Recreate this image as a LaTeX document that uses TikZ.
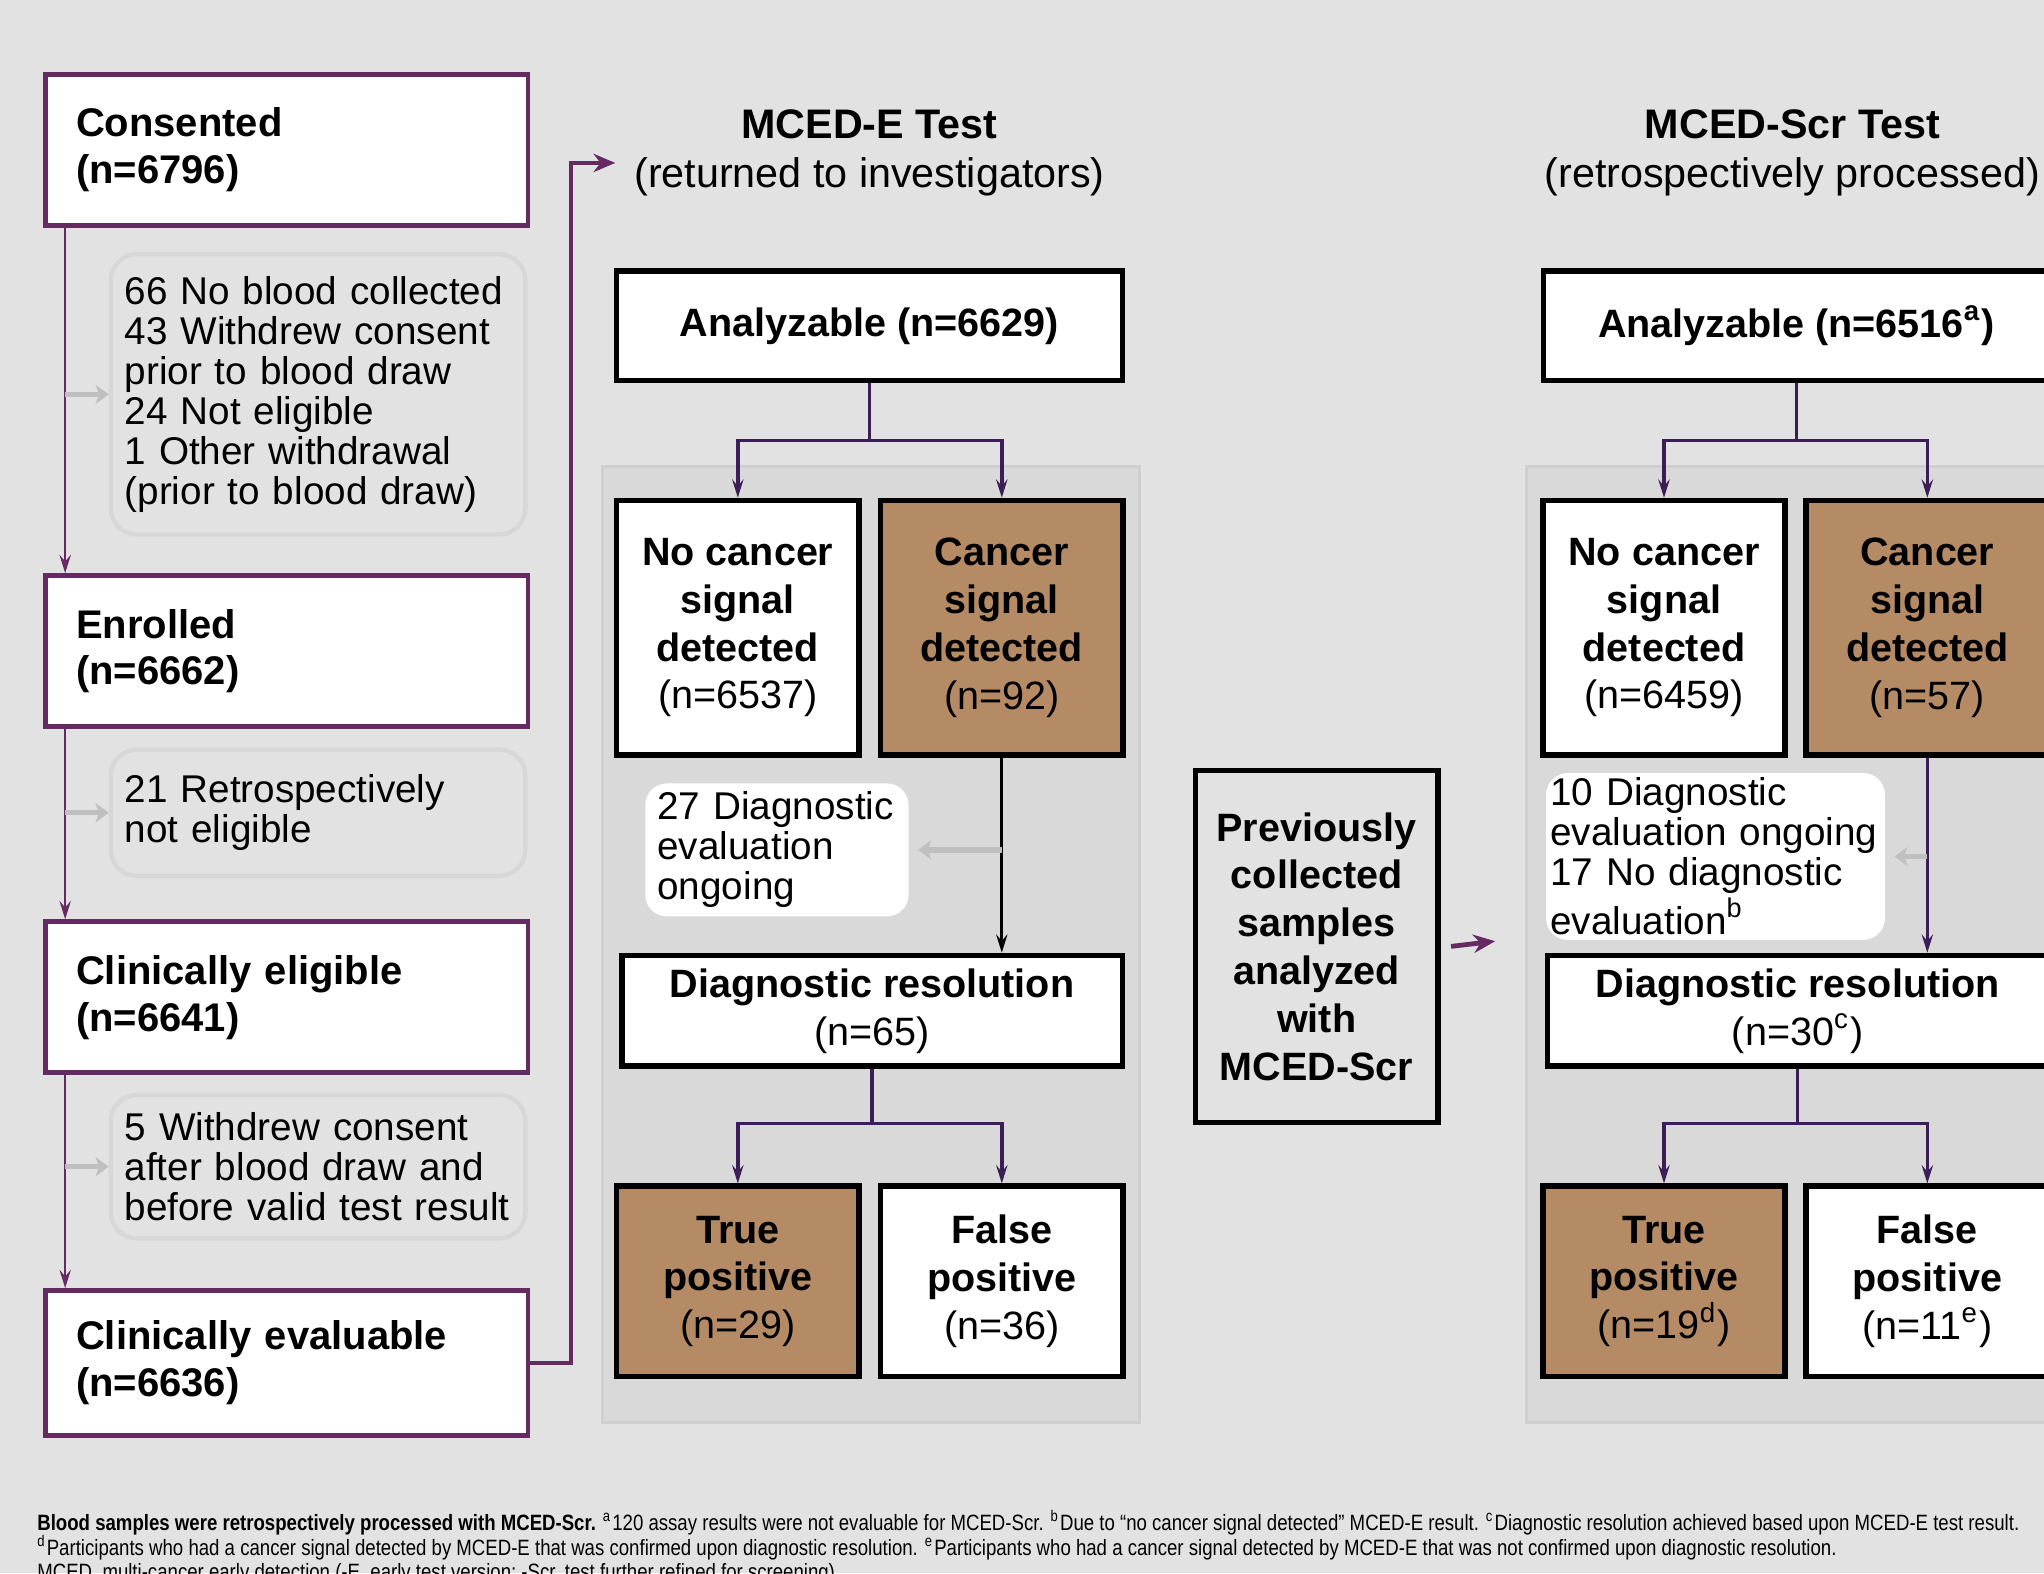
\documentclass[tikz,border=0pt]{standalone}
\usepackage{fontspec}
\setmainfont{Liberation Sans}
\newfontfamily\notefont{Liberation Sans}[FakeStretch=0.84]
\usetikzlibrary{arrows.meta}

\definecolor{bggray}{HTML}{E2E2E2}
\definecolor{panelgray}{HTML}{D9D9D9}
\definecolor{panelline}{HTML}{CFCFCF}
\definecolor{exclline}{HTML}{D7D7D7}
\definecolor{plum}{HTML}{652A62}
\definecolor{darkplum}{HTML}{3C1E57}
\definecolor{boxtan}{HTML}{B58B66}
\definecolor{tipgray}{HTML}{BFBFBF}

\tikzset{
	stk/.tip={Stealth[length=4.2pt,width=2.6pt,inset=1.5pt]},
	bigstk/.tip={Stealth[length=5pt,width=4.2pt,inset=1.6pt]},
	grtip/.tip={Stealth[length=3pt,width=4.4pt,inset=0.8pt]},
}

\begin{document}
\begin{tikzpicture}[x=0.3pt,y=-0.3pt,
	stagebox/.style={draw=plum, line width=1.1pt, fill=white, minimum width=111pt, minimum height=34.8pt,
		text width=97pt, inner xsep=7pt, inner ysep=0pt, align=left, font=\bfseries\fontsize{9.2}{10.8}\selectfont},
	exclbox/.style={draw=exclline, line width=1pt, rounded corners=6pt, fill=bggray, minimum width=95.4pt,
		text width=89pt, inner xsep=3.2pt, inner ysep=0pt, align=left, font=\fontsize{8.9}{9.2}\selectfont},
	countbox/.style={draw=black, line width=1.3pt, fill=white, minimum width=116.4pt, minimum height=25.2pt,
		inner sep=0pt, align=center, font=\bfseries\fontsize{9.1}{11}\selectfont},
	signalbox/.style={countbox, minimum width=55.8pt, minimum height=58.5pt},
	resultbox/.style={countbox, minimum width=55.8pt, minimum height=43.8pt},
	notebox/.style={fill=white, rounded corners=5pt, inner ysep=0pt, align=left, font=\fontsize{8.9}{9.2}\selectfont},
	headnode/.style={inner sep=0pt, align=center, font=\fontsize{9.5}{11.3}\selectfont},
	panel/.style={fill=panelgray, draw=panelline, line width=0.6pt},
	plumline/.style={draw=plum, line width=0.6pt},
	branchline/.style={draw=darkplum, line width=0.8pt},
	blackline/.style={draw=black, line width=0.6pt},
	grayline/.style={draw=tipgray, line width=1.2pt},
]

	\useasboundingbox[fill=bggray] (0,0) rectangle (1568,1207);

	\coordinate (spine) at (50,0);
	\coordinate (elbow) at (438,125);
	\coordinate (etip) at (472,125);
	\coordinate (ebranch) at (667,338);
	\coordinate (eresbranch) at (669,862);
	\coordinate (sbranch) at (1378,338);
	\coordinate (sresbranch) at (1379,862);
	\coordinate (stip) at (1147,722);

	\draw[panel] (462,358) rectangle (874,1091);
	\draw[panel] (1171,358) rectangle (1620,1091);

	% enrolment
	\node[stagebox] (consented) at (220,115) {Consented\\(n=6796)};
	\node[exclbox, minimum height=64.5pt] (excl1) at (244,302.5) {66 No blood collected\\43 Withdrew consent\\prior to blood draw\\24 Not eligible\\1 Other withdrawal\\(prior to blood draw)};
	\node[stagebox] (enrolled) at (220,499.5) {Enrolled\\(n=6662)};
	\node[exclbox, minimum height=29.1pt] (excl2) at (244,623.5) {21 Retrospectively\\not eligible};
	\node[stagebox] (eligible) at (220,765) {Clinically eligible\\(n=6641)};
	\node[exclbox, minimum height=33pt] (excl3) at (244,895) {5 Withdrew consent\\after blood draw and\\before valid test result};
	\node[stagebox, minimum height=33.3pt] (evaluable) at (220,1045.5) {Clinically evaluable\\(n=6636)};

	\draw[plumline,-stk] (consented.south -| spine) -- (enrolled.north -| spine);
	\draw[plumline,-stk] (enrolled.south -| spine) -- (eligible.north -| spine);
	\draw[plumline,-stk] (eligible.south -| spine) -- (evaluable.north -| spine);
	\draw[grayline,-grtip] (spine |- excl1.west) -- (excl1.west);
	\draw[grayline,-grtip] (spine |- excl2.west) -- (excl2.west);
	\draw[grayline,-grtip] (spine |- excl3.west) -- (excl3.west);
	\draw[plumline,line width=0.9pt,-bigstk] (evaluable.east) -| (elbow) -- (etip);

	% MCED-E
	\node[headnode] (etitle) at (667,117) {\textbf{MCED-E Test}\\(returned to investigators)};
	\node[countbox] (eanalyz) at (667,250) {Analyzable (n=6629)};
	\node[signalbox] (enone) at (566,481.5) {No cancer\\signal\\detected\\\mdseries(n=6537)};
	\node[signalbox, fill=boxtan] (ecancer) at (768.5,481.5) {Cancer\\signal\\detected\\\mdseries(n=92)};
	\node[notebox, minimum width=60.6pt, minimum height=30.6pt, text width=55pt, inner xsep=2.8pt] (eongoing) at (596,652) {27 Diagnostic\\evaluation\\ongoing};
	\node[countbox, minimum width=115.2pt, minimum height=25.5pt] (eresol) at (669,775.5) {Diagnostic resolution\\\mdseries(n=65)};
	\node[resultbox, fill=boxtan] (etrue) at (566,983) {True\\positive\\\mdseries(n=29)};
	\node[resultbox] (efalse) at (768.5,983) {False\\positive\\\mdseries(n=36)};

	\draw[branchline] (eanalyz.south) -- (ebranch);
	\draw[branchline,-stk] (ebranch) -| (enone.north);
	\draw[branchline,-stk] (ebranch) -| (ecancer.north);
	\draw[blackline,-stk] (ecancer.south) -- (ecancer.south |- eresol.north);
	\draw[grayline,-grtip,shorten >=2pt] (ecancer.south |- eongoing.east) -- (eongoing.east);
	\draw[branchline] (eresol.south) -- (eresbranch);
	\draw[branchline,-stk] (eresbranch) -| (etrue.north);
	\draw[branchline,-stk] (eresbranch) -| (efalse.north);

	% previously collected samples
	\node[countbox, fill=none, minimum width=55.8pt, minimum height=81pt] (prevmced) at (1010,726) {Previously\\collected\\samples\\analyzed\\with\\MCED-Scr};
	\draw[plumline,line width=1.1pt,-bigstk] ([xshift=2.4pt]prevmced.east) -- (stip);

	% MCED-Scr
	\node[headnode] (stitle) at (1375,117) {\textbf{MCED-Scr Test}\\(retrospectively processed)};
	\node[countbox] (sanalyz) at (1378,250) {Analyzable (n=6516\textsuperscript{a})};
	\node[signalbox] (snone) at (1276.5,481.5) {No cancer\\signal\\detected\\\mdseries(n=6459)};
	\node[signalbox, fill=boxtan] (scancer) at (1478.5,481.5) {Cancer\\signal\\detected\\\mdseries(n=57)};
	\node[notebox, minimum width=78pt, minimum height=38.4pt, text width=76pt, inner xsep=1pt] (songoing) at (1316,657) {10 Diagnostic\\evaluation ongoing\\17 No diagnostic\\evaluation\textsuperscript{b}};
	\node[countbox, minimum width=115.2pt, minimum height=25.5pt] (sresol) at (1379,775.5) {Diagnostic resolution\\\mdseries(n=30\textsuperscript{c})};
	\node[resultbox, fill=boxtan] (strue) at (1276.5,983) {True\\positive\\\mdseries(n=19\textsuperscript{d})};
	\node[resultbox] (sfalse) at (1478.5,983) {False\\positive\\\mdseries(n=11\textsuperscript{e})};

	\draw[branchline] (sanalyz.south) -- (sbranch);
	\draw[branchline,-stk] (sbranch) -| (snone.north);
	\draw[branchline,-stk] (sbranch) -| (scancer.north);
	\draw[branchline,line width=0.6pt,-stk] (scancer.south) -- (scancer.south |- sresol.north);
	\draw[grayline,-grtip,shorten >=2pt] (scancer.south |- songoing.east) -- (songoing.east);
	\draw[branchline] (sresol.south) -- (sresbranch);
	\draw[branchline,-stk] (sresbranch) -| (strue.north);
	\draw[branchline,-stk] (sresbranch) -| (sfalse.north);

	% footnotes
	\node[anchor=north west, inner sep=0pt, align=left, font=\notefont\fontsize{5.1}{5.7}\selectfont] (notes) at (28,1158)
		{\textbf{Blood samples were retrospectively processed with MCED-Scr.} \textsuperscript{a}120 assay results were not evaluable for MCED-Scr. \textsuperscript{b}Due to “no cancer signal detected” MCED-E result. \textsuperscript{c}Diagnostic resolution achieved based upon MCED-E test result.\\
		\textsuperscript{d}Participants who had a cancer signal detected by MCED-E that was confirmed upon diagnostic resolution. \textsuperscript{e}Participants who had a cancer signal detected by MCED-E that was not confirmed upon diagnostic resolution.\\
		MCED, multi-cancer early detection (-E, early test version; -Scr, test further refined for screening).};

\end{tikzpicture}
\end{document}
